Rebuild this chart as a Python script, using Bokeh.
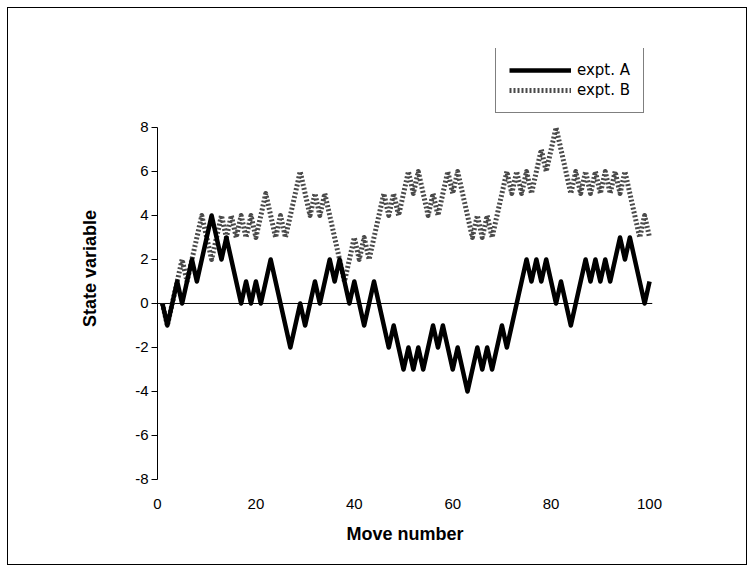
from bokeh.plotting import figure
from bokeh.models import Range1d, Span, Legend, LegendItem, FixedTicker
from bokeh.embed import file_html
from bokeh.resources import INLINE

# ---- data (vertices of the two random walks) ----
move_a = [1, 2, 4, 5, 7, 8, 11, 13, 14, 17, 18, 19, 20, 21, 23, 27, 29, 30, 32, 33,
          35, 36, 37, 39, 40, 41, 42, 44, 47, 48, 50, 51, 52, 53, 54, 56, 57, 58, 60, 61,
          63, 65, 66, 67, 68, 70, 71, 75, 76, 77, 78, 79, 81, 82, 84, 87, 88, 89, 90, 91,
          92, 94, 95, 96, 99, 100]
state_a = [0, -1, 1, 0, 2, 1, 4, 2, 3, 0, 1, 0, 1, 0, 2, -2, 0, -1, 1, 0,
           2, 1, 2, 0, 1, 0, -1, 1, -2, -1, -3, -2, -3, -2, -3, -1, -2, -1, -3, -2,
           -4, -2, -3, -2, -3, -1, -2, 2, 1, 2, 1, 2, 0, 1, -1, 2, 1, 2, 1, 2,
           1, 3, 2, 3, 0, 1]

move_b = [1, 2, 5, 6, 9, 11, 13, 14, 15, 16, 17, 18, 19, 20, 21, 22, 24, 25, 26, 29,
          30, 31, 32, 33, 34, 35, 38, 39, 40, 41, 42, 43, 46, 47, 48, 49, 50, 51, 52, 53,
          55, 56, 57, 59, 60, 61, 64, 65, 66, 67, 68, 71, 72, 73, 74, 75, 76, 78, 79, 81,
          84, 85, 86, 87, 88, 89, 90, 91, 92, 93, 94, 95, 98, 99, 100]
state_b = [0, -1, 2, 1, 4, 2, 4, 3, 4, 3, 4, 3, 4, 3, 4, 5, 3, 4, 3, 6,
           5, 4, 5, 4, 5, 4, 1, 2, 3, 2, 3, 2, 5, 4, 5, 4, 5, 6, 5, 6,
           4, 5, 4, 6, 5, 6, 3, 4, 3, 4, 3, 6, 5, 6, 5, 6, 5, 7, 6, 8,
           5, 6, 5, 6, 5, 6, 5, 6, 5, 6, 5, 6, 3, 4, 3]

x_ticks = [0, 20, 40, 60, 80, 100]
y_ticks = [-8, -6, -4, -2, 0, 2, 4, 6, 8]

series_labels = ["expt. A", "expt. B"]
x_title = "Move number"
y_title = "State variable"

p = figure(width=738, height=556, output_backend="svg", toolbar_location=None,
           x_range=Range1d(0, 100.6), y_range=Range1d(-8.41, 11.59),
           min_border_left=149, min_border_right=94,
           min_border_top=40, min_border_bottom=76)
p.styles = {"margin-left": "8px", "margin-top": "8px",
            "outline": "1px solid black"}

p.xgrid.visible = False
p.ygrid.visible = False
p.outline_line_color = None
p.background_fill_color = "white"
p.border_fill_color = "white"

zero = Span(location=0, dimension="width", line_color="black", line_width=1,
            level="underlay")
p.add_layout(zero)

rb = p.line(move_b, state_b, line_color="#4a4a4a", line_width=5, line_dash="2 2",
            line_join="round")
ra = p.line(move_a, state_a, line_color="black", line_width=4.5, line_join="round")

# x axis: labels only
xa = p.xaxis[0]
xa.ticker = FixedTicker(ticks=x_ticks)
xa.axis_line_color = None
xa.major_tick_line_color = None
xa.minor_tick_line_color = None
xa.major_label_standoff = 4
xa.major_label_text_font = "Liberation Sans"
xa.major_label_text_font_size = "15px"
xa.major_label_text_color = "black"
xa.axis_label = x_title
xa.axis_label_text_font = "Liberation Sans"
xa.axis_label_text_font_style = "bold"
xa.axis_label_text_font_size = "18px"
xa.axis_label_text_color = "black"
xa.axis_label_standoff = 12

ya = p.yaxis[0]
ya.ticker = FixedTicker(ticks=y_ticks)
ya.major_label_overrides = {t: str(t) for t in y_ticks}
ya.bounds = (-8, 8)
ya.axis_line_color = "black"
ya.axis_line_width = 1
ya.major_tick_out = 6
ya.major_tick_in = 0
ya.major_tick_line_color = "black"
ya.minor_tick_line_color = None
ya.major_label_standoff = 3
ya.major_label_text_font = "Liberation Sans"
ya.major_label_text_font_size = "15px"
ya.major_label_text_color = "black"
ya.axis_label = y_title
ya.axis_label_text_font = "Liberation Sans"
ya.axis_label_text_font_style = "bold"
ya.axis_label_text_font_size = "18px"
ya.axis_label_text_color = "black"
ya.axis_label_standoff = 32

legend = Legend(items=[LegendItem(label=series_labels[0], renderers=[ra]),
                       LegendItem(label=series_labels[1], renderers=[rb])],
                location=(338, 375), glyph_width=62, glyph_height=16,
                label_height=16, spacing=2, padding=13, label_standoff=6,
                border_line_color="black", border_line_width=1.5,
                label_text_font="DejaVu Sans", label_text_font_size="15px",
                label_text_color="black",
                background_fill_color="white", background_fill_alpha=1.0)
p.add_layout(legend)

open("out.html", "w").write(file_html(p, INLINE))
